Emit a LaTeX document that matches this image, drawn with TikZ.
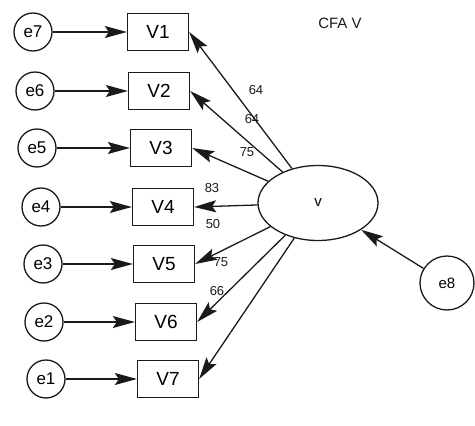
\documentclass[tikz,border=0pt]{standalone}
\usepackage{fontspec}
\setmainfont{Liberation Sans}
\usetikzlibrary{arrows.meta,shapes.geometric}
\definecolor{ink}{HTML}{1A1A1A}
\newcommand{\obsrow}[5]{%
  \node[err] (#1) at (#2,#5) {#1};%
  \node[obs] (#3) at (#4,#5) {#3};%
  \draw[path] (#1) -- (#3);%
}

\begin{document}
\begin{tikzpicture}[x=1pt,y=-1pt,
    err/.style ={draw=ink,circle,line width=1.3pt,minimum size=38pt,inner sep=0pt,
                 font=\fontsize{17}{17}\selectfont},
    obs/.style ={draw=ink,rectangle,line width=1.3pt,minimum width=61pt,minimum height=37pt,
                 inner sep=0pt,font=\fontsize{19}{19}\selectfont},
    path/.style={draw=ink,line width=1.3pt,-{Stealth[length=22pt,width=12pt,inset=4pt]}},
    lbl/.style ={font=\fontsize{13}{13}\selectfont,text=ink,inner sep=0pt},
  ]

% fixed bounding box -> same size as the scan
\path (0,0) rectangle (475,426);

% ---- indicators ------------------------------------------------------------
\obsrow{e7}{33}{V1}{158}{32}
\obsrow{e6}{35}{V2}{159}{91}
\obsrow{e5}{37}{V3}{161}{148}
\obsrow{e4}{41}{V4}{163}{207}
\obsrow{e3}{43}{V5}{164}{264}
\obsrow{e2}{44}{V6}{166}{322}
\obsrow{e1}{46}{V7}{168}{379}

% ---- latent factor ---------------------------------------------------------
\node[draw=ink,ellipse,line width=1.3pt,minimum width=120pt,minimum height=75pt,
      font=\fontsize{15}{15}\selectfont] (v) at (318,203) {v};
\node[err,minimum size=54pt,font=\fontsize{15}{15}\selectfont] (e8) at (447,283) {e8};
\draw[path] (e8) -- (v);

\node[font=\fontsize{15}{15}\selectfont,text=ink] (title) at (340,23) {CFA V};

% ---- loadings --------------------------------------------------------------
\draw[path] (v) -- (V1.east);
\draw[path] (v) -- (V2.east);
\draw[path] (v) -- (V3.east);
\draw[path] (v) -- (V4.east);
\draw[path] (v) -- (V5.east);
\draw[path] (v) -- (V6.east);
\draw[path] (v) -- (V7.east);

\node[lbl] (l1) at (256,90)  {64};
\node[lbl] (l2) at (252,119) {64};
\node[lbl] (l3) at (247,152) {75};
\node[lbl] (l4) at (212,188) {83};
\node[lbl] (l5) at (213,224) {50};
\node[lbl] (l6) at (221,262) {75};
\node[lbl] (l7) at (217,291) {66};

\end{tikzpicture}
\end{document}
